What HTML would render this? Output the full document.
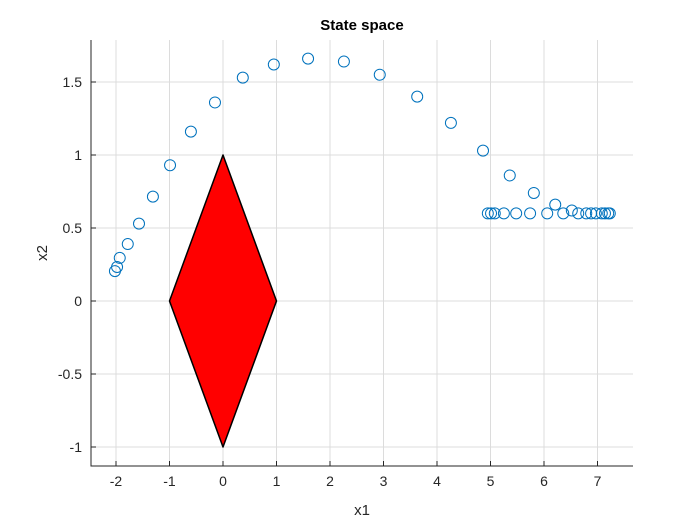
<!DOCTYPE html>
<html><head><meta charset="utf-8"><style>
body{margin:0;background:#fff;}
svg{display:block;font-family:"Liberation Sans",sans-serif;}
</style></head><body>
<svg id="chart" width="700" height="525">
<rect width="700" height="525" fill="#fff"/>
</svg>
<script>
const xTicks=[-2,-1,0,1,2,3,4,5,6,7];
const yTicks=[-1,-0.5,0,0.5,1,1.5];
const yTickLabels=["-1","-0.5","0","0.5","1","1.5"];
const stateX1=[-2.02,-1.98,-1.93,-1.78,-1.57,-1.31,-0.99,-0.60,-0.15,0.37,0.95,1.59,2.26,2.93,3.63,4.26,4.86,5.36,5.81,6.21,6.52,4.95,5.01,5.08,5.25,5.48,5.74,6.06,6.36,6.64,6.79,6.88,6.97,7.08,7.14,7.20,7.23];
const stateX2=[0.205,0.233,0.295,0.39,0.53,0.715,0.93,1.16,1.36,1.53,1.62,1.66,1.64,1.55,1.40,1.22,1.03,0.86,0.74,0.66,0.62,0.6,0.6,0.6,0.6,0.6,0.6,0.6,0.6,0.6,0.6,0.6,0.6,0.6,0.6,0.6,0.6];
const obstacleX=[-1,0,1,0];
const obstacleY=[0,1,0,-1];
const NS="http://www.w3.org/2000/svg";
const svg=document.getElementById('chart');
const L=91,R=633,T=40,B=466;
const xmin=-2.3458,xmax=7.785,ymin=-1.13,ymax=1.788;
const sx=v=>223+v*53.5;
const sy=v=>301-v*146;
function mk(tag,attrs){const e=document.createElementNS(NS,tag);for(const k in attrs)e.setAttribute(k,attrs[k]);svg.appendChild(e);return e;}
// grid
xTicks.forEach(t=>{const l=mk('line',{x1:sx(t),x2:sx(t),y1:T,y2:B,stroke:'#dcdcdc','stroke-width':1});

});
yTicks.forEach(t=>{const l=mk('line',{x1:L,x2:R,y1:sy(t),y2:sy(t),stroke:'#dcdcdc','stroke-width':1});

});
// obstacle
const pts=obstacleX.map((x,i)=>sx(x)+','+sy(obstacleY[i])).join(' ');
const poly=mk('polygon',{points:pts,fill:'#ff0000',stroke:'#000','stroke-width':1.5,'stroke-linejoin':'round'});


// axes
const ax=mk('path',{d:`M${L},${T}V${B}H${R}`,fill:'none',stroke:'#262626','stroke-width':1});


xTicks.forEach(t=>{mk('line',{x1:sx(t),x2:sx(t),y1:B,y2:B-5,stroke:'#262626'});
const tx=mk('text',{x:sx(t),y:B+20,'text-anchor':'middle','font-size':14,fill:'#262626'});tx.textContent=String(t);

});
yTicks.forEach((t,i)=>{mk('line',{x1:L,x2:L+5,y1:sy(t),y2:sy(t),stroke:'#262626'});
const tx=mk('text',{x:L-9,y:sy(t)+5,'text-anchor':'end','font-size':14,fill:'#262626'});tx.textContent=yTickLabels[i];

});
// points
stateX1.forEach((x,i)=>{const c=mk('circle',{cx:sx(x),cy:sy(stateX2[i]),r:5.5,fill:'none',stroke:'#0072bd','stroke-width':1});

});
const title=mk('text',{x:362,y:30,'text-anchor':'middle','font-size':15,'font-weight':'bold',fill:'#000'});title.textContent='State space';


const xl=mk('text',{x:362,y:515,'text-anchor':'middle','font-size':15,fill:'#262626'});xl.textContent='x1';


const yl=mk('text',{x:47,y:253,'text-anchor':'middle','font-size':15,fill:'#262626',transform:'rotate(-90 47 253)'});yl.textContent='x2';


</script>
</body></html>
